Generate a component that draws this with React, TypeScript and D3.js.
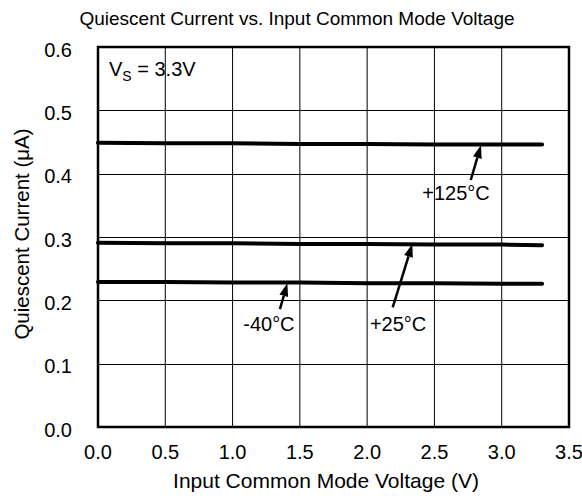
import React from "react";
import * as d3 from "d3";

const W = 582;
const H = 498;
const margin = { left: 98, right: 13, top: 47, bottom: 71 };

const voltages = [0, 0.5, 1.0, 1.5, 2.0, 2.5, 3.0, 3.3];
const i125 = [0.449, 0.448, 0.448, 0.447, 0.447, 0.446, 0.446, 0.446];
const i25 = [0.291, 0.29, 0.29, 0.289, 0.289, 0.288, 0.288, 0.287];
const iM40 = [0.229, 0.229, 0.228, 0.228, 0.227, 0.227, 0.226, 0.226];

const xTicks = [0, 0.5, 1.0, 1.5, 2.0, 2.5, 3.0, 3.5];
const yTicks = [0, 0.1, 0.2, 0.3, 0.4, 0.5, 0.6];

const seriesNames = ["+125°C", "+25°C", "-40°C"];
// annotation positions in data units
const annLabelX = [2.66, 2.23, 1.27];
const annLabelY = [0.358, 0.152, 0.152];
const annTailX = [2.77, 2.19, 1.352];
const annTailY = [0.39, 0.189, 0.186];
const annTipX = [2.846, 2.336, 1.407];
const annTipY = [0.445, 0.289, 0.227];

const FONT = "Arial, 'Liberation Sans', sans-serif";

export default function App() {
  const x = d3.scaleLinear().domain([0, 3.5]).range([margin.left, W - margin.right]);
  const y = d3.scaleLinear().domain([0, 0.6]).range([H - margin.bottom, margin.top]);
  const series = [i125, i25, iM40];
  const line = d3
    .line<number>()
    .x((_, i) => x(voltages[i]))
    .y((d) => y(d));

  const x0 = x(0), x1 = x(3.5), y0 = y(0), y1 = y(0.6);

  return (
    <svg width={W} height={H} style={{ position: "absolute", left: 0, top: 0 }} fontFamily={FONT}>
      <rect x={0} y={0} width={W} height={H} fill="#fff" />
      <text x={297} y={25} fontSize={19} textAnchor="middle" fill="#000">
        Quiescent Current vs. Input Common Mode Voltage
      </text>
      {/* grid */}
      {xTicks.slice(1, -1).map((t) => (
        <line key={"gx" + t} x1={x(t)} x2={x(t)} y1={y1} y2={y0} stroke="#000" strokeWidth={1} />
      ))}
      {yTicks.slice(1, -1).map((t) => (
        <line key={"gy" + t} x1={x0} x2={x1} y1={Math.round(y(t)) + 0.5} y2={Math.round(y(t)) + 0.5} stroke="#000" strokeWidth={1} />
      ))}
      {/* data */}
      {series.map((s, k) => (
        <path key={"s" + k} d={line(s) || ""} fill="none" stroke="#000" strokeWidth={4} strokeLinecap="round" />
      ))}
      {/* border */}
      <rect x={x0} y={y1} width={x1 - x0} height={y0 - y1} fill="none" stroke="#000" strokeWidth={2.5} />
      {/* ticks */}
      {xTicks.map((t) => (
        <text key={"xt" + t} x={x(t)} y={y0 + 32} fontSize={20} textAnchor="middle">
          {t.toFixed(1)}
        </text>
      ))}
      {yTicks.map((t) => (
        <text key={"yt" + t} x={72} y={y(t) + 9.5} fontSize={20} textAnchor="end">
          {t.toFixed(1)}
        </text>
      ))}
      <text x={326} y={488} fontSize={21} textAnchor="middle">
        Input Common Mode Voltage (V)
      </text>
      <text transform={`translate(29, 234) rotate(-90)`} fontSize={20.5} textAnchor="middle">
        Quiescent Current (μA)
      </text>
      {/* Vs label */}
      <text x={109} y={76} fontSize={20}>
        V<tspan fontSize={14} dy={5}>S</tspan>
        <tspan dy={-5}> = 3.3V</tspan>
      </text>
      {/* annotations */}
      {seriesNames.map((n, k) => {
        const tx = x(annTailX[k]), ty = y(annTailY[k]);
        const hx = x(annTipX[k]), hy = y(annTipY[k]);
        const ang = Math.atan2(hy - ty, hx - tx);
        const L = 13, Wd = 4.5;
        const bx = hx - L * Math.cos(ang), by = hy - L * Math.sin(ang);
        const px = -Math.sin(ang), py = Math.cos(ang);
        const pts = `${hx},${hy} ${bx + px * Wd},${by + py * Wd} ${bx - px * Wd},${by - py * Wd}`;
        return (
          <g key={"a" + k}>
            <line x1={tx} y1={ty} x2={bx} y2={by} stroke="#000" strokeWidth={2.5} />
            <polygon points={pts} fill="#000" />
            <text x={x(annLabelX[k])} y={y(annLabelY[k])} fontSize={20} textAnchor="middle">
              {n}
            </text>
          </g>
        );
      })}
    </svg>
  );
}
